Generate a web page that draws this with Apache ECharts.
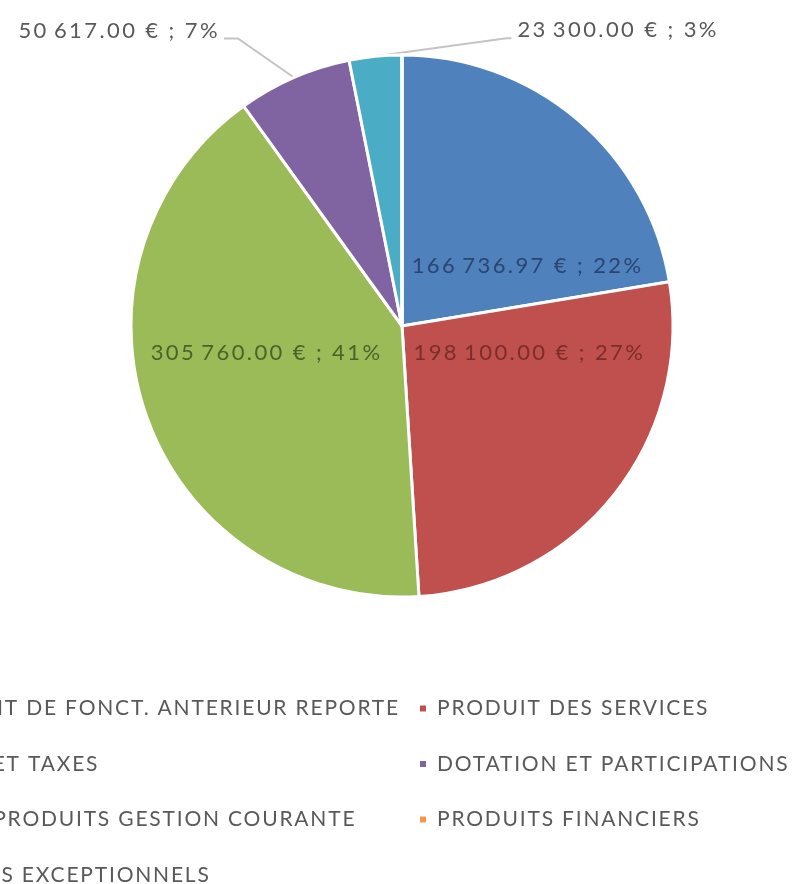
<!DOCTYPE html>
<html>
<head>
<meta charset="utf-8">
<script src="https://cdn.jsdelivr.net/npm/echarts@6/dist/echarts.min.js"></script>
<style>html,body{margin:0;padding:0;background:#fff;}#c{width:802px;height:884px;}</style>
</head>
<body>
<div id="c"></div>
<script>
const categories = [
  "EXCEDENT DE FONCT. ANTERIEUR REPORTE",
  "PRODUIT DES SERVICES",
  "IMPOTS ET TAXES",
  "DOTATION ET PARTICIPATIONS",
  "AUTRES PRODUITS GESTION COURANTE",
  "PRODUITS FINANCIERS",
  "PRODUITS EXCEPTIONNELS"
];
const values = [166736.97, 198100.00, 305760.00, 50617.00, 23300.00, 0, 0];
const colors = ["#4F81BD", "#C0504D", "#9BBB59", "#8064A2", "#4BACC6", "#F79646", "#2C4D75"];
const labelColors = ["#2b4470", "#7a2e2c", "#4a6327", "#595959", "#595959", "#595959", "#595959"];

// Widen the text slightly (letter spacing tied to font size) to match the stretched original
(function () {
  const proto = CanvasRenderingContext2D.prototype;
  const desc = Object.getOwnPropertyDescriptor(proto, "font");
  if (!desc || !("letterSpacing" in proto)) return;
  Object.defineProperty(proto, "font", {
    configurable: true,
    get: function () { return desc.get.call(this); },
    set: function (v) {
      desc.set.call(this, v);
      const m = /(\d+(?:\.\d+)?)px/.exec(v);
      const size = m ? parseFloat(m[1]) : 12;
      let ls = 0;
      if (size === 21) ls = 1.8;
      else if (size === 22) ls = 2.4;
      this.letterSpacing = ls + "px";
    }
  });
})();

const FONT = "Lato";
const total = values.reduce((a, b) => a + b, 0);
function fmt(v) {
  const parts = v.toFixed(2).split(".");
  const intPart = parts[0].replace(/\B(?=(\d{3})+(?!\d))/g, "\u2009");
  return intPart + "." + parts[1] + "\u00a0€ ; " + Math.round(v / total * 100) + "%";
}

const data = categories.map((name, i) => ({
  name: name,
  value: values[i],
  itemStyle: { color: colors[i] },
  label: {
    show: values[i] > 0,
    position: i < 3 ? "inside" : "outside",
    color: labelColors[i]
  },
  labelLine: { show: i >= 3 && values[i] > 0 }
}));

const legendText = { fontFamily: FONT, fontSize: 21, color: "#595959", lineHeight: 22, padding: [0, 0, 0, 5] };
const chart = echarts.init(document.getElementById("c"), null, { renderer: "canvas" });
chart.setOption({
  animation: false,
  backgroundColor: "#ffffff",
  legend: [
    {
      data: [categories[0], categories[2], categories[4], categories[6]],
      orient: "vertical",
      right: 402,
      top: 697,
      height: 400,
      padding: 0,
      itemWidth: 8,
      itemHeight: 8,
      icon: "rect",
      itemGap: 32.7,
      textStyle: legendText,
      selectedMode: false
    },
    {
      data: [categories[1], categories[3], categories[5]],
      orient: "vertical",
      left: 418,
      top: 697,
      height: 400,
      padding: 0,
      itemWidth: 8,
      itemHeight: 8,
      icon: "rect",
      itemGap: 32.7,
      textStyle: legendText,
      selectedMode: false
    }
  ],
  series: [{
    type: "pie",
    center: [402, 326],
    radius: [0, 271],
    startAngle: 90,
    clockwise: true,
    avoidLabelOverlap: false,
    itemStyle: { borderColor: "#ffffff", borderWidth: 3 },
    label: {
      fontFamily: FONT,
      fontSize: 22,
      formatter: p => fmt(p.value)
    },
    labelLine: { lineStyle: { color: "#c4c4c4", width: 2 }, length: 20, length2: 10 },
    labelLayout: function (params) {
      const i = params.dataIndex;
      if (i === 0) return { dx: 36, dy: 46 };
      if (i === 1) return { dx: 19, dy: -59 };
      if (i === 2) return { dx: -5, dy: -20 };
      if (!params.labelLinePoints) return {};
      const p0 = params.labelLinePoints[0];
      if (i === 3) {
        const ly = p0[1] - 39;
        return {
          x: p0[0] - 74, y: p0[1] - 47, align: "right", verticalAlign: "middle",
          labelLinePoints: [p0, [p0[0] - 56, ly], [p0[0] - 70, ly]]
        };
      }
      if (i === 4) {
        const ly = p0[1] - 18;
        return {
          x: p0[0] + 142, y: p0[1] - 26, align: "left", verticalAlign: "middle",
          labelLinePoints: [p0, [p0[0] + 131, ly], [p0[0] + 136, ly]]
        };
      }
      return {};
    },
    data: data
  }]
});
</script>
</body>
</html>
